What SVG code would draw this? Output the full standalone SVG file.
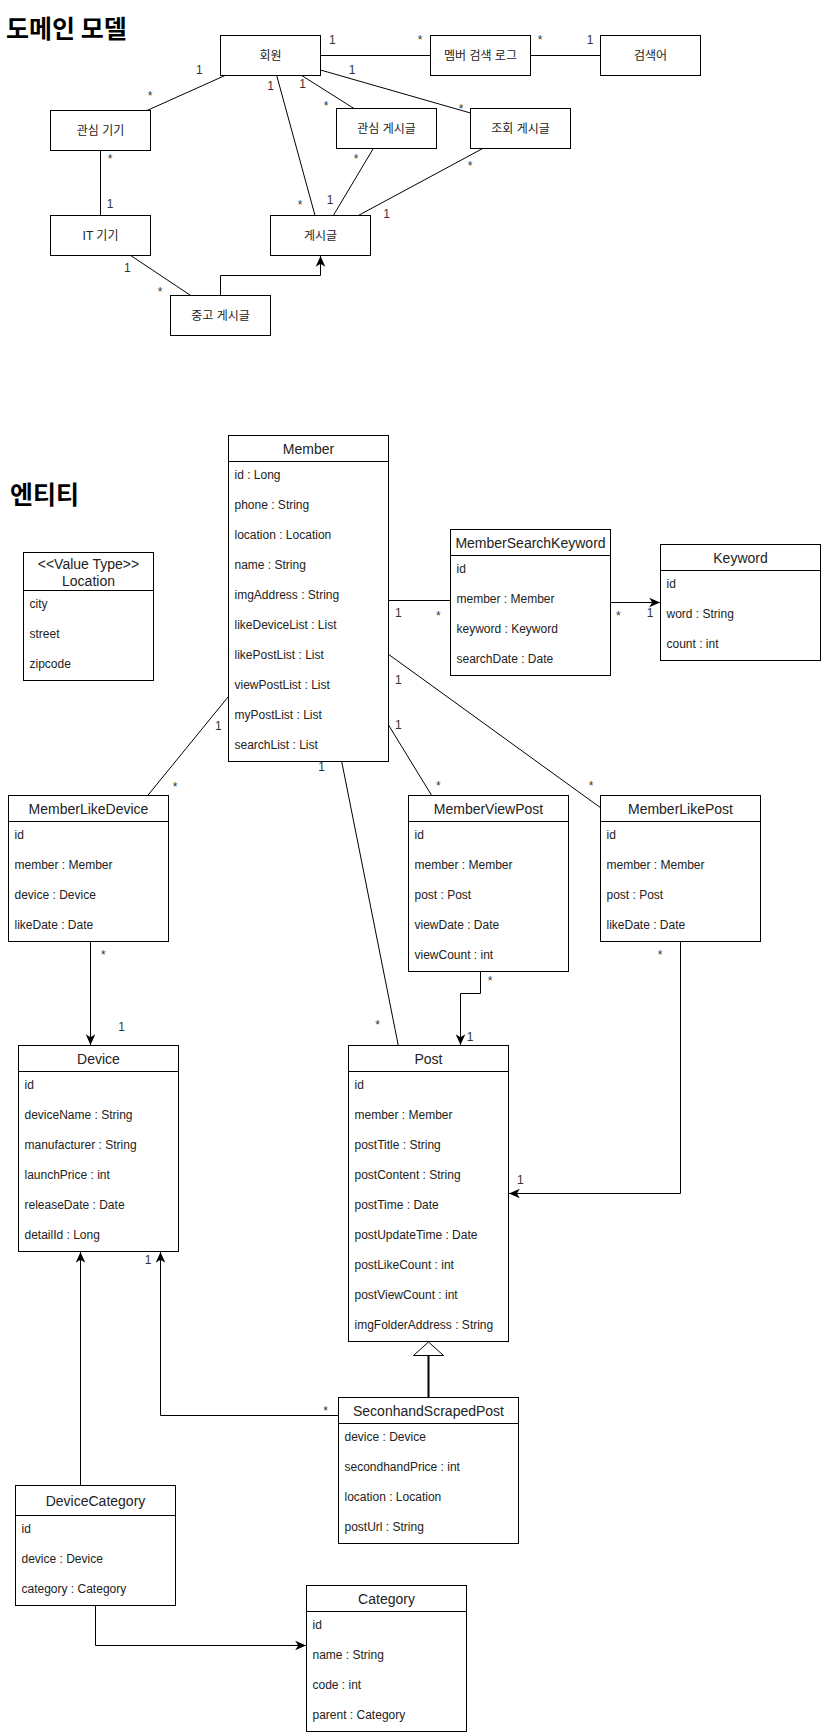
<svg xmlns="http://www.w3.org/2000/svg" width="821" height="1734" viewBox="0 0 821 1734">
  <style>
    .box { fill: #fff; stroke: #000; stroke-width: 1; }
    .div { stroke: #000; stroke-width: 1; }
    .edge { fill: none; stroke: #000; stroke-width: 1; }
    .title { font-family: "Noto Sans CJK KR", sans-serif; font-size: 25px; font-weight: bold; fill: #000; }
    .ko { font-family: "Liberation Sans", "Noto Sans CJK KR", sans-serif; font-size: 12px; fill: #222; text-anchor: middle; }
    .hd { font-family: "Liberation Sans", "Noto Sans CJK KR", sans-serif; font-size: 14px; fill: #222; text-anchor: middle; }
    .fd { font-family: "Liberation Sans", sans-serif; font-size: 12px; fill: #222; }
    .lb { font-family: "Liberation Sans", sans-serif; font-size: 12px; fill: #333; text-anchor: middle; }
  </style>
  <defs>
    <marker id="arrow" markerUnits="userSpaceOnUse" markerWidth="12" markerHeight="12" viewBox="0 0 10 10" refX="9" refY="5" orient="auto">
      <path d="M0,1 L9,5 L0,9 L2.5,5 Z" fill="#000"/>
    </marker>
  </defs>

  <rect width="821" height="1734" fill="#fff"/>

  <!-- section titles -->
  <text class="title" x="6" y="37.5">도메인 모델</text>
  <text class="title" x="10" y="504">엔티티</text>

  <!-- connectors -->
  <g id="connectors">
    <!-- domain model -->
    <path class="edge" d="M320.5,55.5 H430.5"/>
    <path class="edge" d="M530.5,55.5 H600.5"/>
    <path class="edge" d="M225,75.5 L147,110.5"/>
    <path class="edge" d="M320.5,70 L470.5,113"/>
    <path class="edge" d="M301.7,75.5 L354,108.5"/>
    <path class="edge" d="M276.7,75.5 L315,215.5"/>
    <path class="edge" d="M373.3,148.5 L333.3,215.5"/>
    <path class="edge" d="M482.7,148.5 L358.3,215.5"/>
    <path class="edge" d="M100.5,150.5 V215.5"/>
    <path class="edge" d="M130.7,255.5 L190.7,295.5"/>
    <path class="edge" d="M220.5,295.5 V275.5 H320.5 V256" marker-end="url(#arrow)"/>

    <!-- entities -->
    <path class="edge" d="M388.5,600.5 H450.5"/>
    <path class="edge" d="M610.5,602.5 H660" marker-end="url(#arrow)"/>
    <path class="edge" d="M228.3,696.7 L147.7,795.5"/>
    <path class="edge" d="M341.7,761.5 L398.3,1045.5"/>
    <path class="edge" d="M388.5,725 L431.7,795.5"/>
    <path class="edge" d="M388.5,654.3 L600.5,807.7"/>
    <path class="edge" d="M90.5,941.5 V1045" marker-end="url(#arrow)"/>
    <path class="edge" d="M480.5,971.5 V993.5 H460.5 V1045" marker-end="url(#arrow)"/>
    <path class="edge" d="M680.5,941.5 V1193.5 H509" marker-end="url(#arrow)"/>
    <path d="M428.5,1397.5 V1355.5" fill="none" stroke="#000" stroke-width="2"/>
    <path d="M428.5,1342 L443.5,1355.5 L413.5,1355.5 Z" fill="#fff" stroke="#000" stroke-width="1"/>
    <path class="edge" d="M338.5,1415.5 H160.5 V1252" marker-end="url(#arrow)"/>
    <path class="edge" d="M80.5,1485.5 V1252" marker-end="url(#arrow)"/>
    <path class="edge" d="M95.5,1605.5 V1645.5 H306" marker-end="url(#arrow)"/>

    <!-- multiplicities -->
    <text class="lb" x="332.3" y="44.3">1</text>
    <text class="lb" x="420" y="44">*</text>
    <text class="lb" x="540" y="44">*</text>
    <text class="lb" x="590" y="44.3">1</text>
    <text class="lb" x="199.3" y="74.3">1</text>
    <text class="lb" x="150" y="100">*</text>
    <text class="lb" x="352" y="74.3">1</text>
    <text class="lb" x="270.7" y="90.3">1</text>
    <text class="lb" x="302.7" y="87.6">1</text>
    <text class="lb" x="326" y="110">*</text>
    <text class="lb" x="461" y="113">*</text>
    <text class="lb" x="110" y="163">*</text>
    <text class="lb" x="356" y="163">*</text>
    <text class="lb" x="470" y="170">*</text>
    <text class="lb" x="110" y="207.6">1</text>
    <text class="lb" x="300" y="209">*</text>
    <text class="lb" x="330" y="204.3">1</text>
    <text class="lb" x="386.7" y="217.6">1</text>
    <text class="lb" x="127.3" y="271.6">1</text>
    <text class="lb" x="160" y="296">*</text>

    <text class="lb" x="398.3" y="617">1</text>
    <text class="lb" x="438.3" y="620">*</text>
    <text class="lb" x="618.3" y="620">*</text>
    <text class="lb" x="650" y="617.3">1</text>
    <text class="lb" x="398.3" y="683.6">1</text>
    <text class="lb" x="398.3" y="729">1</text>
    <text class="lb" x="218.3" y="730.3">1</text>
    <text class="lb" x="321.7" y="771">1</text>
    <text class="lb" x="175" y="791">*</text>
    <text class="lb" x="438.3" y="790">*</text>
    <text class="lb" x="591" y="790">*</text>
    <text class="lb" x="103.3" y="958.7">*</text>
    <text class="lb" x="660" y="959">*</text>
    <text class="lb" x="490" y="985">*</text>
    <text class="lb" x="121.7" y="1031">1</text>
    <text class="lb" x="377.7" y="1028.7">*</text>
    <text class="lb" x="470" y="1041">1</text>
    <text class="lb" x="520.4" y="1184.3">1</text>
    <text class="lb" x="148.2" y="1264.3">1</text>
    <text class="lb" x="325.7" y="1415.3">*</text>
  </g>

  <!-- domain model nodes -->
  <g id="member-kr">
    <rect class="box" x="220.5" y="35.5" width="100" height="40"/>
    <text class="ko" x="270.5" y="59.5">회원</text>
  </g>
  <g id="search-log-kr">
    <rect class="box" x="430.5" y="35.5" width="100" height="40"/>
    <text class="ko" x="480.5" y="59.5">멤버 검색 로그</text>
  </g>
  <g id="keyword-kr">
    <rect class="box" x="600.5" y="35.5" width="100" height="40"/>
    <text class="ko" x="650.5" y="59.5">검색어</text>
  </g>
  <g id="like-device-kr">
    <rect class="box" x="50.5" y="110.5" width="100" height="40"/>
    <text class="ko" x="100.5" y="134.5">관심 기기</text>
  </g>
  <g id="like-post-kr">
    <rect class="box" x="336.5" y="108.5" width="100" height="40"/>
    <text class="ko" x="386.5" y="132.5">관심 게시글</text>
  </g>
  <g id="view-post-kr">
    <rect class="box" x="470.5" y="108.5" width="100" height="40"/>
    <text class="ko" x="520.5" y="132.5">조회 게시글</text>
  </g>
  <g id="device-kr">
    <rect class="box" x="50.5" y="215.5" width="100" height="40"/>
    <text class="ko" x="100.5" y="239.5">IT 기기</text>
  </g>
  <g id="post-kr">
    <rect class="box" x="270.5" y="215.5" width="100" height="40"/>
    <text class="ko" x="320.5" y="239.5">게시글</text>
  </g>
  <g id="used-post-kr">
    <rect class="box" x="170.5" y="295.5" width="100" height="40"/>
    <text class="ko" x="220.5" y="319.5">중고 게시글</text>
  </g>

  <!-- entity nodes -->
  <g id="Member">
    <rect class="box" x="228.5" y="435.5" width="160" height="326"/>
    <line class="div" x1="228.5" y1="461.5" x2="388.5" y2="461.5"/>
    <text class="hd" x="308.5" y="453.5">Member</text>
    <text class="fd" x="234.5" y="479">id : Long</text>
    <text class="fd" x="234.5" y="509">phone : String</text>
    <text class="fd" x="234.5" y="539">location : Location</text>
    <text class="fd" x="234.5" y="569">name : String</text>
    <text class="fd" x="234.5" y="599">imgAddress : String</text>
    <text class="fd" x="234.5" y="629">likeDeviceList : List</text>
    <text class="fd" x="234.5" y="659">likePostList : List</text>
    <text class="fd" x="234.5" y="689">viewPostList : List</text>
    <text class="fd" x="234.5" y="719">myPostList : List</text>
    <text class="fd" x="234.5" y="749">searchList : List</text>
  </g>

  <g id="Location">
    <rect class="box" x="23.5" y="552.5" width="130" height="128"/>
    <line class="div" x1="23.5" y1="590.5" x2="153.5" y2="590.5"/>
    <text class="hd" x="88.5" y="569">&lt;&lt;Value Type&gt;&gt;</text>
    <text class="hd" x="88.5" y="586">Location</text>
    <text class="fd" x="29.5" y="608">city</text>
    <text class="fd" x="29.5" y="638">street</text>
    <text class="fd" x="29.5" y="668">zipcode</text>
  </g>

  <g id="MemberSearchKeyword">
    <rect class="box" x="450.5" y="529.5" width="160" height="146"/>
    <line class="div" x1="450.5" y1="555.5" x2="610.5" y2="555.5"/>
    <text class="hd" x="530.5" y="547.5">MemberSearchKeyword</text>
    <text class="fd" x="456.5" y="573">id</text>
    <text class="fd" x="456.5" y="603">member : Member</text>
    <text class="fd" x="456.5" y="633">keyword : Keyword</text>
    <text class="fd" x="456.5" y="663">searchDate : Date</text>
  </g>

  <g id="Keyword">
    <rect class="box" x="660.5" y="544.5" width="160" height="116"/>
    <line class="div" x1="660.5" y1="570.5" x2="820.5" y2="570.5"/>
    <text class="hd" x="740.5" y="562.5">Keyword</text>
    <text class="fd" x="666.5" y="588">id</text>
    <text class="fd" x="666.5" y="618">word : String</text>
    <text class="fd" x="666.5" y="648">count : int</text>
  </g>

  <g id="MemberLikeDevice">
    <rect class="box" x="8.5" y="795.5" width="160" height="146"/>
    <line class="div" x1="8.5" y1="821.5" x2="168.5" y2="821.5"/>
    <text class="hd" x="88.5" y="813.5">MemberLikeDevice</text>
    <text class="fd" x="14.5" y="839">id</text>
    <text class="fd" x="14.5" y="869">member : Member</text>
    <text class="fd" x="14.5" y="899">device : Device</text>
    <text class="fd" x="14.5" y="929">likeDate : Date</text>
  </g>

  <g id="MemberViewPost">
    <rect class="box" x="408.5" y="795.5" width="160" height="176"/>
    <line class="div" x1="408.5" y1="821.5" x2="568.5" y2="821.5"/>
    <text class="hd" x="488.5" y="813.5">MemberViewPost</text>
    <text class="fd" x="414.5" y="839">id</text>
    <text class="fd" x="414.5" y="869">member : Member</text>
    <text class="fd" x="414.5" y="899">post : Post</text>
    <text class="fd" x="414.5" y="929">viewDate : Date</text>
    <text class="fd" x="414.5" y="959">viewCount : int</text>
  </g>

  <g id="MemberLikePost">
    <rect class="box" x="600.5" y="795.5" width="160" height="146"/>
    <line class="div" x1="600.5" y1="821.5" x2="760.5" y2="821.5"/>
    <text class="hd" x="680.5" y="813.5">MemberLikePost</text>
    <text class="fd" x="606.5" y="839">id</text>
    <text class="fd" x="606.5" y="869">member : Member</text>
    <text class="fd" x="606.5" y="899">post : Post</text>
    <text class="fd" x="606.5" y="929">likeDate : Date</text>
  </g>

  <g id="Device">
    <rect class="box" x="18.5" y="1045.5" width="160" height="206"/>
    <line class="div" x1="18.5" y1="1071.5" x2="178.5" y2="1071.5"/>
    <text class="hd" x="98.5" y="1063.5">Device</text>
    <text class="fd" x="24.5" y="1089">id</text>
    <text class="fd" x="24.5" y="1119">deviceName : String</text>
    <text class="fd" x="24.5" y="1149">manufacturer : String</text>
    <text class="fd" x="24.5" y="1179">launchPrice : int</text>
    <text class="fd" x="24.5" y="1209">releaseDate : Date</text>
    <text class="fd" x="24.5" y="1239">detailId : Long</text>
  </g>

  <g id="Post">
    <rect class="box" x="348.5" y="1045.5" width="160" height="296"/>
    <line class="div" x1="348.5" y1="1071.5" x2="508.5" y2="1071.5"/>
    <text class="hd" x="428.5" y="1063.5">Post</text>
    <text class="fd" x="354.5" y="1089">id</text>
    <text class="fd" x="354.5" y="1119">member : Member</text>
    <text class="fd" x="354.5" y="1149">postTitle : String</text>
    <text class="fd" x="354.5" y="1179">postContent : String</text>
    <text class="fd" x="354.5" y="1209">postTime : Date</text>
    <text class="fd" x="354.5" y="1239">postUpdateTime : Date</text>
    <text class="fd" x="354.5" y="1269">postLikeCount : int</text>
    <text class="fd" x="354.5" y="1299">postViewCount : int</text>
    <text class="fd" x="354.5" y="1329">imgFolderAddress : String</text>
  </g>

  <g id="SeconhandScrapedPost">
    <rect class="box" x="338.5" y="1397.5" width="180" height="146"/>
    <line class="div" x1="338.5" y1="1423.5" x2="518.5" y2="1423.5"/>
    <text class="hd" x="428.5" y="1415.5">SeconhandScrapedPost</text>
    <text class="fd" x="344.5" y="1441">device : Device</text>
    <text class="fd" x="344.5" y="1471">secondhandPrice : int</text>
    <text class="fd" x="344.5" y="1501">location : Location</text>
    <text class="fd" x="344.5" y="1531">postUrl : String</text>
  </g>

  <g id="DeviceCategory">
    <rect class="box" x="15.5" y="1485.5" width="160" height="120"/>
    <line class="div" x1="15.5" y1="1515.5" x2="175.5" y2="1515.5"/>
    <text class="hd" x="95.5" y="1505.5">DeviceCategory</text>
    <text class="fd" x="21.5" y="1533">id</text>
    <text class="fd" x="21.5" y="1563">device : Device</text>
    <text class="fd" x="21.5" y="1593">category : Category</text>
  </g>

  <g id="Category">
    <rect class="box" x="306.5" y="1585.5" width="160" height="146"/>
    <line class="div" x1="306.5" y1="1611.5" x2="466.5" y2="1611.5"/>
    <text class="hd" x="386.5" y="1603.5">Category</text>
    <text class="fd" x="312.5" y="1629">id</text>
    <text class="fd" x="312.5" y="1659">name : String</text>
    <text class="fd" x="312.5" y="1689">code : int</text>
    <text class="fd" x="312.5" y="1719">parent : Category</text>
  </g>
</svg>
